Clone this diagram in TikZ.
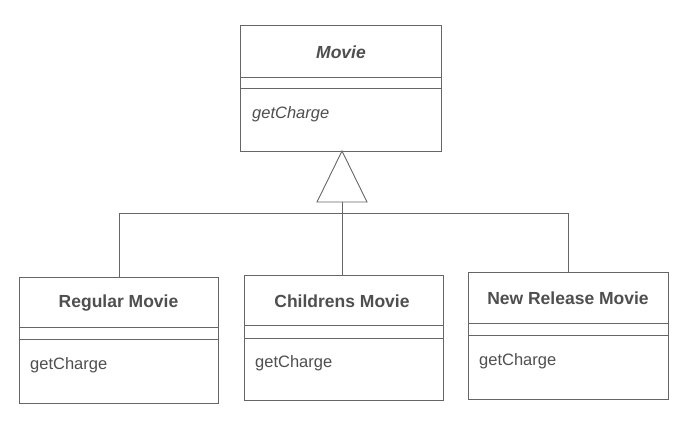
\documentclass[tikz,border=0pt]{standalone}
\usepackage{fontspec}
\setmainfont{Liberation Sans}
\usetikzlibrary{calc}
\definecolor{lc}{HTML}{666666}
\definecolor{tc}{HTML}{4F4F4F}
\begin{document}
\begin{tikzpicture}[x=1pt,y=-1pt,
  classbox/.style={draw=lc, line width=0.9pt, rectangle, anchor=north west, inner sep=0pt},
  title/.style={font=\fontsize{17.5}{20}\selectfont\bfseries, text=tc},
  op/.style={font=\fontsize{16.5}{19}\selectfont, text=tc, anchor=west, inner sep=0pt},
  conn/.style={draw=lc, line width=0.9pt}]
\path[use as bounding box, fill=white] (0,0) rectangle (697,422);
% Movie
\node[classbox, minimum width=201pt, minimum height=126pt] (movie) at (240,25) {};
\draw[conn] ($(movie.north west)+(0,52)$) -- ($(movie.north east)+(0,52)$);
\draw[conn] ($(movie.north west)+(0,63)$) -- ($(movie.north east)+(0,63)$);
\node[title, font=\fontsize{17.5}{20}\selectfont\bfseries\itshape] (movieT) at (341,52) {Movie};
\node[op, font=\fontsize{16.5}{19}\selectfont\itshape] (movieO) at (252,114) {getCharge};
% Regular
\node[classbox, minimum width=199pt, minimum height=126pt] (regular) at (19,277) {};
\draw[conn] ($(regular.north west)+(0,50)$) -- ($(regular.north east)+(0,50)$);
\draw[conn] ($(regular.north west)+(0,62)$) -- ($(regular.north east)+(0,62)$);
\node[title] (regularT) at (118.5,303) {Regular Movie};
\node[op] (regularO) at (30,365) {getCharge};
% Childrens
\node[classbox, minimum width=199pt, minimum height=125pt] (childrens) at (244,275) {};
\draw[conn] ($(childrens.north west)+(0,50)$) -- ($(childrens.north east)+(0,50)$);
\draw[conn] ($(childrens.north west)+(0,63)$) -- ($(childrens.north east)+(0,63)$);
\node[title] (childrensT) at (342,301) {Childrens Movie};
\node[op] (childrensO) at (255,363) {getCharge};
% New Release
\node[classbox, minimum width=200pt, minimum height=127pt] (newrel) at (468,272) {};
\draw[conn] ($(newrel.north west)+(0,51)$) -- ($(newrel.north east)+(0,51)$);
\draw[conn] ($(newrel.north west)+(0,63)$) -- ($(newrel.north east)+(0,63)$);
\node[title] (newrelT) at (568,298) {New Release Movie};
\node[op] (newrelO) at (479,361) {getCharge};
% generalization
\coordinate (apex) at (342,151);
\coordinate (tribase) at (342,202);
\coordinate (bus) at (342,213);
\draw[conn, fill=white] (apex) -- ($(tribase)+(-25,0)$) -- ($(tribase)+(25,0)$) -- cycle;
\draw[conn] (tribase) -- (tribase |- childrens.north);
\draw[conn] (regular.north) -- (regular.north |- bus) -- (newrel.north |- bus) -- (newrel.north);
\end{tikzpicture}
\end{document}
